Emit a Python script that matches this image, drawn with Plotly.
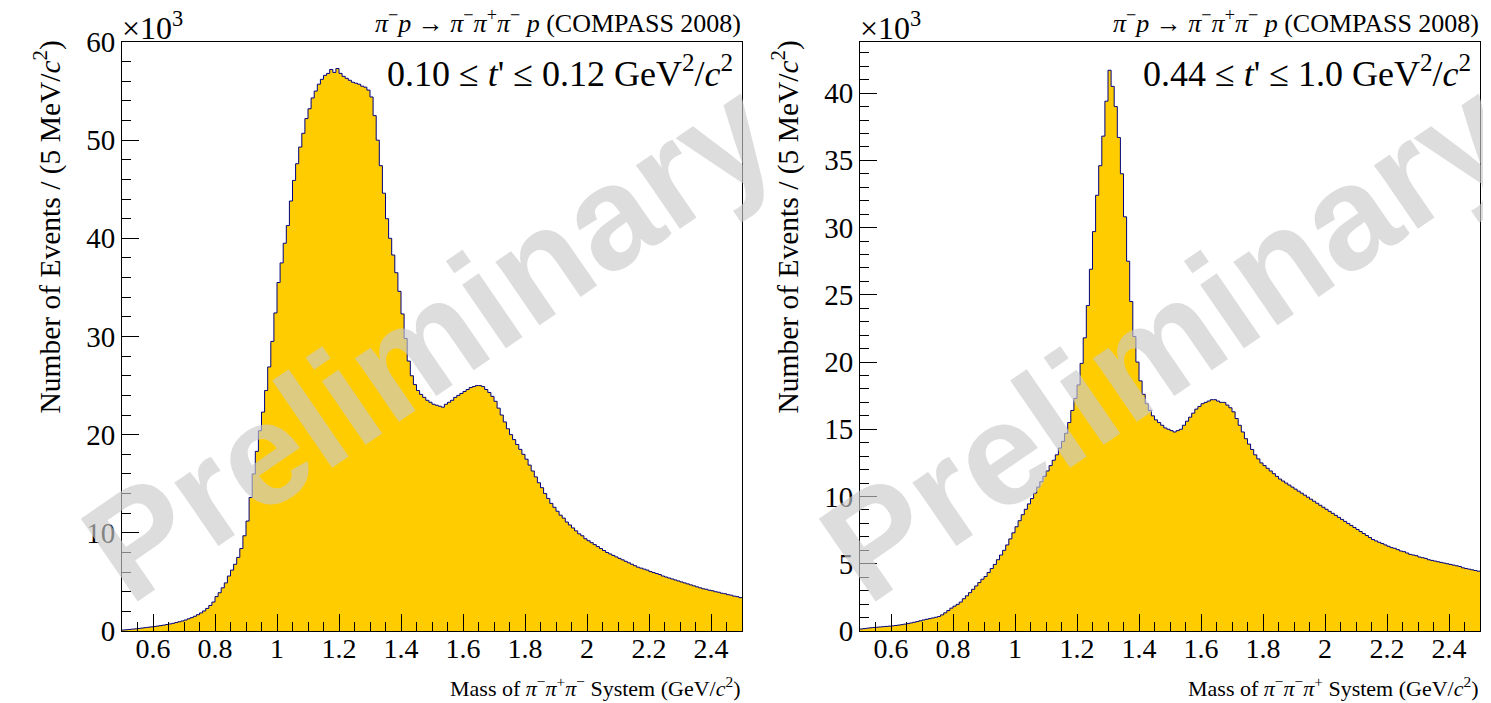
import numpy as np
import plotly.graph_objects as go

# ---------------- data (values in units of 10^3 events per 5 MeV/c^2) ----------------
MASS_EDGES = np.round(np.arange(0.50, 2.5001, 0.01), 2)   # 200 bins of 10 MeV

LOW_T_VALUES = [
    0.10, 0.13, 0.16, 0.19, 0.22, 0.26, 0.30, 0.34, 0.38, 0.42,
    0.46, 0.50, 0.55, 0.60, 0.66, 0.72, 0.78, 0.86, 0.94, 1.02,
    1.12, 1.24, 1.36, 1.50, 1.66, 1.84, 2.04, 2.30, 2.60, 2.95,
    3.50, 3.90, 4.40, 4.90, 5.60, 6.20, 6.80, 7.50, 8.40, 9.70,
    11.2, 13.6, 16.0, 18.3, 20.4, 22.3, 24.5, 26.9, 29.5, 32.4,
    35.5, 37.5, 39.5, 41.3, 43.8, 45.9, 47.6, 49.3, 50.7, 52.2,
    53.2, 54.3, 55.0, 55.7, 56.2, 56.6, 56.8, 57.2, 56.9, 57.3,
    56.8, 56.5, 56.3, 56.1, 55.9, 55.8, 55.7, 55.5, 55.4, 55.1,
    54.4, 52.5, 50.0, 47.4, 44.6, 42.0, 40.0, 38.3, 36.5, 34.6,
    32.3, 29.8, 27.5, 26.0, 25.1, 24.5, 24.1, 23.8, 23.5, 23.3,
    23.1, 23.0, 22.9, 22.8, 23.1, 23.3, 23.5, 23.8, 24.0, 24.2,
    24.4, 24.6, 24.8, 24.9, 25.0, 25.0, 24.9, 24.6, 24.3, 23.9,
    23.4, 22.7, 22.0, 21.3, 20.6, 20.0, 19.5, 19.0, 18.5, 18.0,
    17.5, 16.9, 16.3, 15.7, 15.1, 14.6, 14.0, 13.5, 13.0, 12.6,
    12.2, 11.8, 11.5, 11.1, 10.8, 10.5, 10.2, 9.9, 9.7, 9.4,
    9.2, 9.0, 8.8, 8.6, 8.4, 8.2, 8.0, 7.85, 7.7, 7.55,
    7.4, 7.25, 7.1, 6.95, 6.8, 6.65, 6.5, 6.4, 6.3, 6.2,
    6.05, 5.95, 5.85, 5.75, 5.6, 5.5, 5.4, 5.3, 5.2, 5.1,
    5.0, 4.9, 4.8, 4.7, 4.6, 4.5, 4.4, 4.3, 4.25, 4.15,
    4.1, 4.0, 3.95, 3.85, 3.8, 3.7, 3.65, 3.55, 3.5, 3.4,
]

HIGH_T_VALUES = [
    0.15, 0.18, 0.21, 0.24, 0.26, 0.28, 0.30, 0.32, 0.34, 0.36,
    0.38, 0.41, 0.44, 0.47, 0.51, 0.55, 0.60, 0.65, 0.70, 0.76,
    0.82, 0.87, 0.92, 0.97, 1.02, 1.08, 1.20, 1.35, 1.52, 1.70,
    1.85, 1.98, 2.15, 2.40, 2.62, 2.85, 3.10, 3.35, 3.60, 3.85,
    4.05, 4.35, 4.65, 4.95, 5.30, 5.65, 6.00, 6.40, 6.85, 7.30,
    7.75, 8.20, 8.65, 9.05, 9.45, 9.85, 10.25, 10.7, 11.1, 11.5,
    11.9, 12.3, 12.7, 13.1, 13.6, 14.1, 14.7, 15.5, 16.4, 17.3,
    18.3, 19.9, 21.8, 24.2, 26.9, 29.7, 32.4, 34.6, 36.8, 39.4,
    41.7, 40.5, 39.0, 36.7, 34.0, 30.8, 27.5, 24.5, 21.9, 20.0,
    18.6, 17.6, 16.9, 16.4, 16.0, 15.7, 15.5, 15.3, 15.1, 15.0,
    14.9, 14.8, 14.9, 15.0, 15.3, 15.6, 15.9, 16.2, 16.5, 16.7,
    16.9, 17.0, 17.1, 17.2, 17.2, 17.1, 17.0, 17.0, 16.8, 16.6,
    16.3, 15.8, 15.3, 14.8, 14.3, 13.9, 13.5, 13.1, 12.8, 12.5,
    12.3, 12.1, 11.9, 11.7, 11.5, 11.3, 11.15, 11.0, 10.85, 10.7,
    10.55, 10.4, 10.25, 10.1, 9.95, 9.8, 9.65, 9.5, 9.35, 9.2,
    9.05, 8.9, 8.75, 8.6, 8.45, 8.3, 8.15, 8.0, 7.85, 7.7,
    7.55, 7.4, 7.25, 7.1, 6.95, 6.8, 6.7, 6.6, 6.5, 6.4,
    6.3, 6.2, 6.15, 6.05, 5.95, 5.9, 5.8, 5.7, 5.65, 5.6,
    5.5, 5.45, 5.4, 5.3, 5.25, 5.2, 5.15, 5.1, 5.05, 5.0,
    4.95, 4.9, 4.85, 4.8, 4.7, 4.65, 4.6, 4.55, 4.5, 4.45,
]

X_TICKS = [0.6, 0.8, 1.0, 1.2, 1.4, 1.6, 1.8, 2.0, 2.2, 2.4]
X_TICK_TEXT = ["0.6", "0.8", "1", "1.2", "1.4", "1.6", "1.8", "2", "2.2", "2.4"]
LEFT_Y_TICKS = [0, 10, 20, 30, 40, 50, 60]
RIGHT_Y_TICKS = [0, 5, 10, 15, 20, 25, 30, 35, 40]

REACTION = "<i>π</i><sup>−</sup><i>p</i> → <i>π</i><sup>−</sup><i>π</i><sup>+</sup><i>π</i><sup>−</sup> <i>p</i> (COMPASS 2008)"
LEFT_TBIN = "0.10 ≤ <i>t</i>' ≤ 0.12 GeV<sup>2</sup>/<i>c</i><sup>2</sup>"
RIGHT_TBIN = "0.44 ≤ <i>t</i>' ≤ 1.0 GeV<sup>2</sup>/<i>c</i><sup>2</sup>"
LEFT_XTITLE = "Mass of <i>π</i><sup>−</sup><i>π</i><sup>+</sup><i>π</i><sup>−</sup> System (GeV/<i>c</i><sup>2</sup>)"
RIGHT_XTITLE = "Mass of <i>π</i><sup>−</sup><i>π</i><sup>−</sup><i>π</i><sup>+</sup> System (GeV/<i>c</i><sup>2</sup>)"
YTITLE = "Number of Events / (5 MeV/<i>c</i><sup>2</sup>)"

# ---------------- layout geometry (screen pixels; page body has an 8 px margin) ----------------
OFF = 8
W, H = 1491 - OFF, 703 - OFF
SERIF = "Liberation Serif"
FILL = "#FFCC00"
LINE = "#000080"


def px(x):
    return (x - OFF) / W


def py(y):
    return 1 - (y - OFF) / H


fig = go.Figure()

for vals, xa, ya in [(LOW_T_VALUES, "x", "y"), (HIGH_T_VALUES, "x2", "y2")]:
    xs = list(MASS_EDGES)
    ys = list(vals) + [vals[-1]]
    fig.add_trace(go.Scatter(
        x=xs, y=ys, mode="lines", line=dict(shape="hv", color=LINE, width=1),
        fill="tozeroy", fillcolor=FILL, xaxis=xa, yaxis=ya, hoverinfo="skip",
        showlegend=False,
    ))

panels = [
    dict(x0=122, x1=742, yticks=LEFT_Y_TICKS, ymax=60.0, ydtick_minor=2,
         tbin=LEFT_TBIN, xtitle=LEFT_XTITLE),
    dict(x0=860, x1=1480, yticks=RIGHT_Y_TICKS, ymax=43.8, ydtick_minor=1,
         tbin=RIGHT_TBIN, xtitle=RIGHT_XTITLE),
]
Y_TOP, Y_BOT = 42, 631

axis_common = dict(showline=True, linecolor="black", linewidth=1, mirror=True,
                   showgrid=False, zeroline=False, ticks="inside", tickcolor="black",
                   tickwidth=1, automargin=False)

annotations = []
for i, p in enumerate(panels):
    sfx = "" if i == 0 else str(i + 1)
    fig.update_layout(**{
        "xaxis" + sfx: dict(
            domain=[px(p["x0"]), px(p["x1"])], range=[0.5, 2.5], anchor="y" + sfx,
            tickvals=X_TICKS, ticktext=X_TICK_TEXT, ticklen=17, ticklabelstandoff=-8,
            tickfont=dict(family=SERIF, size=28, color="black"),
            minor=dict(dtick=0.05, tick0=0.5, ticklen=9, ticks="inside",
                       tickcolor="black", showgrid=False),
            **axis_common),
        "yaxis" + sfx: dict(
            domain=[py(Y_BOT), py(Y_TOP)], range=[0, p["ymax"]], anchor="x" + sfx,
            tickvals=p["yticks"], ticklen=17,
            tickfont=dict(family=SERIF, size=29, color="black"),
            minor=dict(dtick=p["ydtick_minor"], tick0=0, ticklen=9, ticks="inside",
                       tickcolor="black", showgrid=False),
            **axis_common),
    })
    off = p["x0"] - 122
    common = dict(xref="paper", yref="paper", showarrow=False)
    annotations.append(dict(text="×10<sup>3</sup>", x=px(p["x0"] - 2), y=py(26),
                            xanchor="left", yanchor="middle",
                            font=dict(family=SERIF, size=32, color="black"), **common))
    annotations.append(dict(text=REACTION, x=px(p["x1"] + 1), y=py(22),
                            xanchor="right", yanchor="middle",
                            font=dict(family=SERIF, size=26, color="black"), **common))
    annotations.append(dict(text=p["tbin"], x=px(p["x1"] - 7), y=py(72),
                            xanchor="right", yanchor="middle",
                            font=dict(family=SERIF, size=36, color="black"), **common))
    annotations.append(dict(text=p["xtitle"], x=px(p["x1"] + 1), y=py(687),
                            xanchor="right", yanchor="middle",
                            font=dict(family=SERIF, size=22, color="black"), **common))
    annotations.append(dict(text=YTITLE, x=px(48 + off), y=py(39),
                            xanchor="center", yanchor="top", textangle=-90,
                            font=dict(family=SERIF, size=29.5, color="black"), **common))
    annotations.append(dict(text="<b>Preliminary</b>", x=px(428 + off), y=py(340),
                            xanchor="center", yanchor="middle", textangle=-34.5,
                            opacity=0.64,
                            font=dict(family="Liberation Sans, Arial, sans-serif",
                                      size=146, color="rgb(203,203,203)"), **common))

fig.update_layout(
    template="none",
    width=W, height=H, margin=dict(l=0, r=0, t=0, b=0, autoexpand=False),
    paper_bgcolor="white", plot_bgcolor="white",
    annotations=annotations,
)

fig.write_html("out.html")
